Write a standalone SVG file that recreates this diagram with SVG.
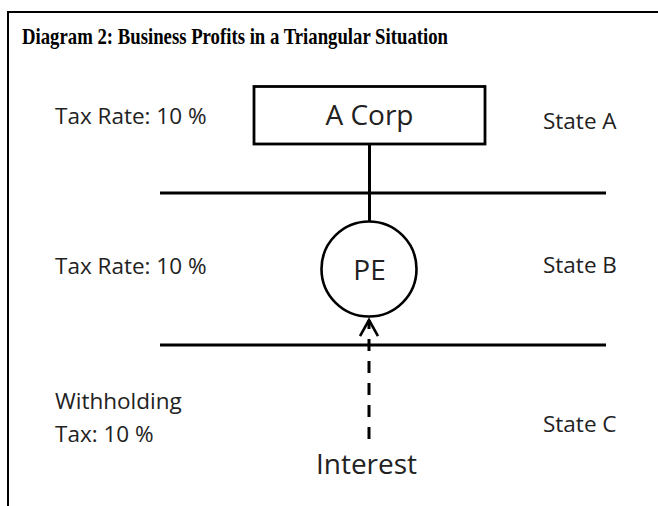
<svg xmlns="http://www.w3.org/2000/svg" width="658" height="506" viewBox="0 0 658 506">
<style>
.lbl{font-family:"Open Sans","Liberation Sans",sans-serif;font-size:22.5px;fill:#222}
.big{font-family:"Open Sans","Liberation Sans",sans-serif;font-size:28px;fill:#222}
.ln{stroke:#000;stroke-width:3;fill:none}
</style>
<defs>
<marker id="chev" markerWidth="20" markerHeight="20" refX="17" refY="10" orient="auto" markerUnits="userSpaceOnUse" viewBox="0 0 20 20">
<path d="M1,1 L17,10 L1,19" fill="none" stroke="#000" stroke-width="2.6"/>
</marker>
</defs>
<rect width="658" height="506" fill="#fff"/>
<path d="M8,506 V12 H660" stroke="#000" stroke-width="2" fill="none"/>
<text x="22" y="44" font-family="Liberation Serif,serif" font-weight="bold" font-size="24" textLength="426" lengthAdjust="spacingAndGlyphs" fill="#000">Diagram 2: Business Profits in a Triangular Situation</text>
<g id="state-lines">
<line class="ln" x1="160" y1="193" x2="606" y2="193"/>
<line class="ln" x1="160" y1="345" x2="606" y2="345"/>
</g>
<g id="connectors">
<line class="ln" x1="369.5" y1="144" x2="369.5" y2="222"/>
<line x1="369" y1="439" x2="369" y2="320" stroke="#000" stroke-width="3" stroke-dasharray="12,10" marker-end="url(#chev)"/>
</g>
<g id="a-corp">
<rect x="254" y="86.5" width="231" height="57.5" fill="#fff" stroke="#000" stroke-width="2.8"/>
<text class="big" x="369.5" y="125" text-anchor="middle">A Corp</text>
</g>
<g id="pe">
<circle cx="369" cy="269" r="47.5" fill="#fff" stroke="#000" stroke-width="2.6"/>
<text class="big" x="369.5" y="280" text-anchor="middle">PE</text>
</g>
<g id="labels">
<text class="lbl" x="55" y="124">Tax Rate: 10 %</text>
<text class="lbl" x="55" y="274">Tax Rate: 10 %</text>
<text class="lbl" x="55" y="409">Withholding</text>
<text class="lbl" x="55" y="442">Tax: 10 %</text>
<text class="lbl" x="543" y="129">State A</text>
<text class="lbl" x="543" y="273">State B</text>
<text class="lbl" x="543" y="432">State C</text>
<text class="big" x="366.5" y="474" text-anchor="middle">Interest</text>
</g>
</svg>
